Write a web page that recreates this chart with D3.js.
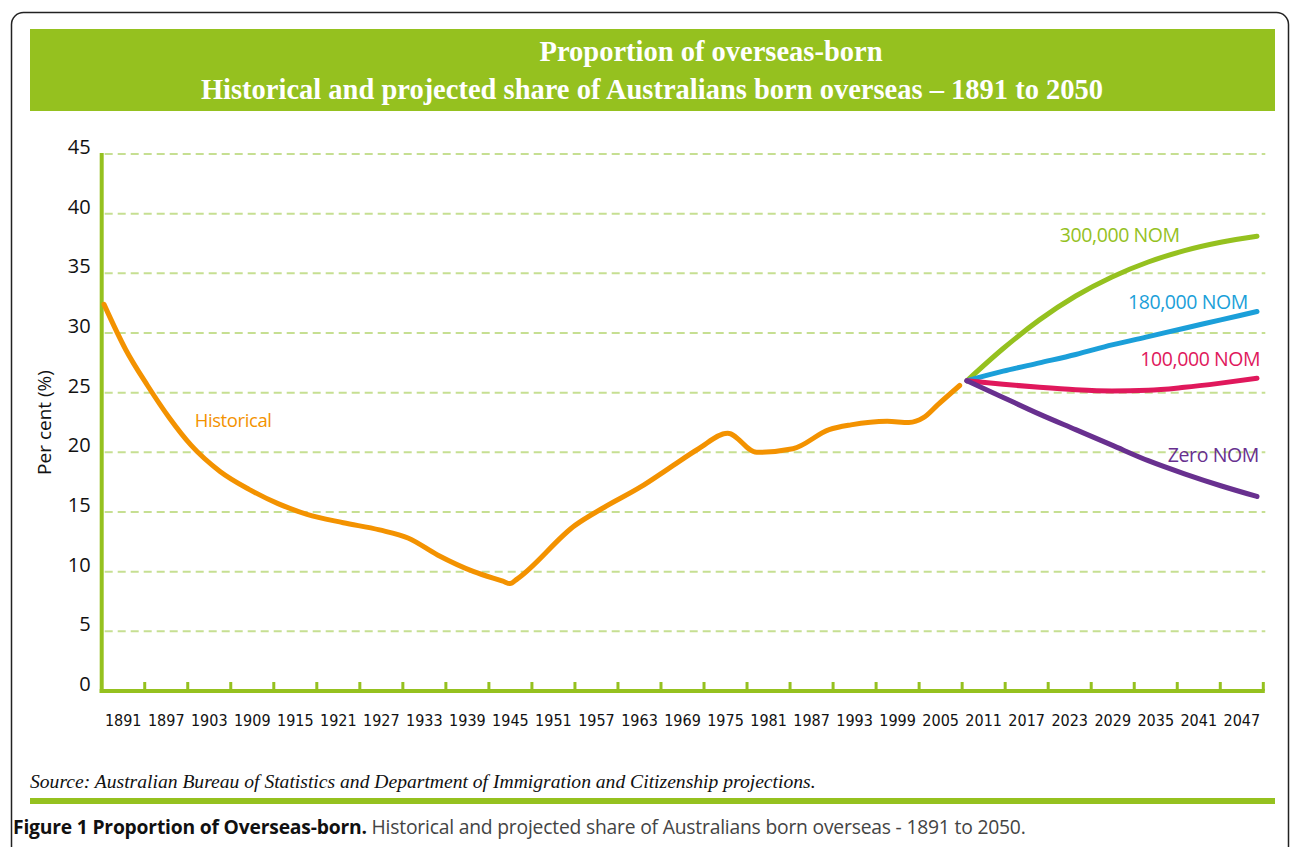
<!DOCTYPE html>
<html>
<head>
<meta charset="utf-8">
<script src="https://cdn.jsdelivr.net/npm/d3@7"></script>
<style>
  body { margin: 0; background: #fff; }
  svg { display: block; }
</style>
</head>
<body>
<div id="chart"></div>
<script>
// Tick labels on the x axis (one per 6-year band)
const labelYears = [1891, 1897, 1903, 1909, 1915, 1921, 1927, 1933, 1939, 1945, 1951, 1957, 1963,
  1969, 1975, 1981, 1987, 1993, 1999, 2005, 2011, 2017, 2023, 2029, 2035, 2041, 2047];
const yTicks = [0, 5, 10, 15, 20, 25, 30, 35, 40, 45];

// Historical share born overseas (%)
const histYears = [1891, 1894, 1897, 1900, 1903, 1907, 1911, 1915, 1919, 1924, 1929, 1933, 1937,
  1942, 1946, 1947, 1948, 1956, 1960, 1965, 1969, 1973, 1977, 1981, 1986, 1991, 1994, 1999,
  2002, 2004, 2006, 2009];
const histValues = [32.4, 28.6, 25.6, 22.9, 20.6, 18.4, 16.9, 15.7, 14.8, 14.1, 13.5, 12.8, 11.4,
  10.0, 9.2, 9.0, 9.4, 13.9, 15.4, 17.1, 18.7, 20.3, 21.6, 20.0, 20.3, 21.9, 22.3, 22.6,
  22.5, 22.9, 24.0, 25.6];

// Projections by net overseas migration (NOM)
const projYears = [2010, 2015, 2020, 2025, 2030, 2035, 2040, 2045, 2050];
const nom300 = [26.0, 28.7, 31.1, 33.1, 34.7, 35.95, 36.9, 37.6, 38.1];
const nom180 = [26.0, 26.8, 27.5, 28.2, 29.0, 29.7, 30.4, 31.1, 31.8];
const nom100 = [26.0, 25.7, 25.45, 25.25, 25.15, 25.2, 25.45, 25.8, 26.2];
const nomZero = [26.0, 24.6, 23.2, 21.9, 20.6, 19.3, 18.2, 17.2, 16.3];

const width = 1290, height = 847;
const green = '#95c11f';

const svg = d3.select('#chart').append('svg')
  .attr('width', width)
  .attr('height', height);

// outer frame
svg.append('rect')
  .attr('x', 11.5).attr('y', 12.5)
  .attr('width', 1277).attr('height', 860)
  .attr('rx', 12)
  .attr('fill', 'none')
  .attr('stroke', '#222')
  .attr('stroke-width', 1.5);

// title banner
svg.append('rect')
  .attr('x', 30).attr('y', 29)
  .attr('width', 1245).attr('height', 82)
  .attr('fill', green);

const title = svg.append('text')
  .attr('text-anchor', 'middle')
  .attr('fill', '#fff')
  .style('font-family', '"Liberation Serif", "DejaVu Serif", serif')
  .style('font-weight', 'bold')
  .style('font-size', '28.5px');
title.append('tspan').attr('x', 711).attr('y', 61).text('Proportion of overseas-born');
title.append('tspan').attr('x', 652).attr('y', 99)
  .text('Historical and projected share of Australians born overseas \u2013 1891 to 2050');

// scales
const plotLeft = 101.7, plotRight = 1263.3;
const x = d3.scaleLinear().domain([1891, 2050]).range([104, 1257]);
const xBand = d3.scaleBand().domain(labelYears).range([plotLeft, plotRight]);
const y = d3.scaleLinear().domain([0, 45]).range([691, 154]);

// gridlines
svg.append('g').selectAll('line')
  .data(yTicks.filter(d => d > 0))
  .join('line')
  .attr('x1', plotLeft + 3).attr('x2', plotRight + 2)
  .attr('y1', d => y(d)).attr('y2', d => y(d))
  .attr('stroke', '#c6df92')
  .attr('stroke-width', 2)
  .attr('stroke-dasharray', '8,5');

// y axis
const yAxis = svg.append('g')
  .attr('transform', `translate(${plotLeft},0)`)
  .call(d3.axisLeft(y).tickValues(yTicks).tickSize(0).tickPadding(11));
yAxis.select('.domain').remove();
yAxis.selectAll('text')
  .attr('dy', '0.32em')
  .attr('y', -7)
  .style('font-family', '"Open Sans", sans-serif')
  .style('font-size', '20px')
  .attr('fill', '#111');
svg.append('line')
  .attr('x1', plotLeft).attr('x2', plotLeft)
  .attr('y1', y(45) - 1).attr('y2', y(0) + 2)
  .attr('stroke', green).attr('stroke-width', 4);

svg.append('text')
  .attr('transform', `translate(51,${y(22.5)}) rotate(-90)`)
  .attr('text-anchor', 'middle')
  .style('font-family', '"Open Sans", sans-serif')
  .style('font-size', '19px')
  .attr('fill', '#111')
  .text('Per cent (%)');

// x axis
const xAxis = svg.append('g')
  .attr('transform', `translate(0,${y(0)})`)
  .call(d3.axisBottom(xBand).tickSize(0).tickPadding(24));
xAxis.select('.domain').remove();
xAxis.selectAll('text')
  .style('font-family', '"DejaVu Sans Condensed", "Open Sans", sans-serif')
  .style('font-stretch', 'condensed')
  .style('font-size', '16px')
  .attr('fill', '#111');
svg.append('line')
  .attr('x1', plotLeft - 2).attr('x2', plotRight + 1.5)
  .attr('y1', y(0)).attr('y2', y(0))
  .attr('stroke', green).attr('stroke-width', 4);
svg.append('g').selectAll('line')
  .data(labelYears)
  .join('line')
  .attr('x1', d => xBand(d) + xBand.bandwidth())
  .attr('x2', d => xBand(d) + xBand.bandwidth())
  .attr('y1', y(0)).attr('y2', y(0) - 9)
  .attr('stroke', green).attr('stroke-width', 3);

// lines
const line = d3.line()
  .x(d => x(d[0]))
  .y(d => y(d[1]))
  .curve(d3.curveMonotoneX);

const series = [
  { name: 'Historical', years: histYears, values: histValues, color: '#f39200' },
  { name: '300,000 NOM', years: projYears, values: nom300, color: '#95c11f' },
  { name: '180,000 NOM', years: projYears, values: nom180, color: '#1b9fd9' },
  { name: '100,000 NOM', years: projYears, values: nom100, color: '#e0185c' },
  { name: 'Zero NOM', years: projYears, values: nomZero, color: '#68308f' }
];

svg.append('g').selectAll('path')
  .data(series)
  .join('path')
  .attr('d', s => line(s.years.map((yr, i) => [yr, s.values[i]])))
  .attr('fill', 'none')
  .attr('stroke', s => s.color)
  .attr('stroke-width', 5)
  .attr('stroke-linecap', 'round')
  .attr('stroke-linejoin', 'round');

// series labels (anchored in data units)
const labelYear = [1903.5, 2022.8, 2032.2, 2033.9, 2037.7];
const labelValue = [22.1, 37.6, 32.0, 27.2, 19.2];

svg.append('g').selectAll('text')
  .data(series)
  .join('text')
  .attr('x', (s, i) => x(labelYear[i]))
  .attr('y', (s, i) => y(labelValue[i]))
  .attr('fill', s => s.color)
  .style('font-family', '"Open Sans", sans-serif')
  .style('font-size', (s, i) => i === 0 ? '18.5px' : '19.5px')
  .style('letter-spacing', '-0.4px')
  .text(s => s.name);

// source note
svg.append('text')
  .attr('x', 30).attr('y', 788)
  .style('font-family', '"Liberation Serif", serif')
  .style('font-style', 'italic')
  .style('font-size', '19.6px')
  .attr('fill', '#111')
  .text('Source: Australian Bureau of Statistics and Department of Immigration and Citizenship projections.');

svg.append('rect')
  .attr('x', 30).attr('y', 798)
  .attr('width', 1245).attr('height', 6)
  .attr('fill', green);

// caption
const cap = svg.append('text')
  .attr('x', 13).attr('y', 834)
  .style('font-family', '"Open Sans", sans-serif')
  .style('font-size', '19.3px')
  .style('letter-spacing', '-0.2px');
cap.append('tspan').attr('font-weight', 'bold').attr('fill', '#111').text('Figure 1 Proportion of Overseas-born.');
cap.append('tspan').attr('fill', '#444').text(' Historical and projected share of Australians born overseas - 1891 to 2050.');
</script>
</body>
</html>
